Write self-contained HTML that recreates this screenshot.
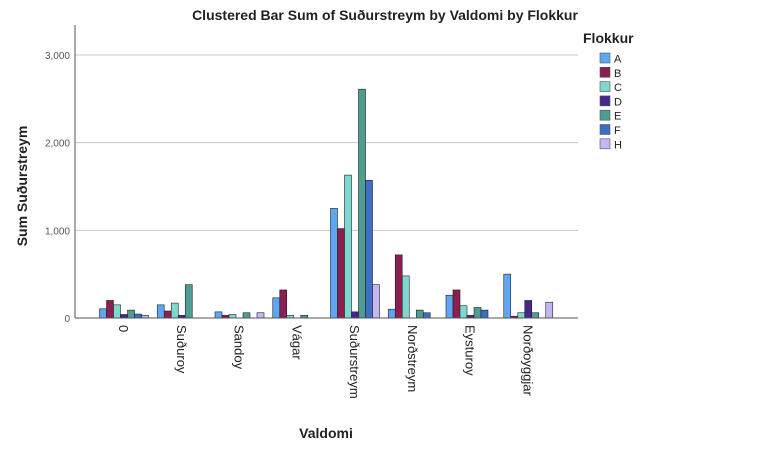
<!DOCTYPE html>
<html><head><meta charset="utf-8"><style>
body{margin:0;background:#fff;width:770px;height:453px;overflow:hidden;font-family:"Liberation Sans",sans-serif}
</style></head><body>
<svg id="chart" width="770" height="453" xmlns="http://www.w3.org/2000/svg">
<text x="385" y="20" text-anchor="middle" font-size="14" font-weight="bold" fill="#222">Clustered Bar Sum of Suðurstreym by Valdomi by Flokkur</text>
<g id="grid"></g><g id="bars"></g><g id="axes"></g><g id="legend"></g>
<text transform="translate(27,186) rotate(-90)" text-anchor="middle" font-size="14" font-weight="bold" fill="#222">Sum Suðurstreym</text>
<text x="326" y="438" text-anchor="middle" font-size="14" font-weight="bold" fill="#222">Valdomi</text>
</svg>
<script>
const categories=["0","Suðuroy","Sandoy","Vágar","Suðurstreym","Norðstreym","Eysturoy","Norðoyggjar"];
const seriesNames=["A","B","C","D","E","F","H"];
const seriesColors=["#5ea6f2","#8b1f4f","#7fd8cf","#45268f","#4f9c93","#3e6ec2","#c6b5f5"];
const valuesA=[105,150,70,230,1250,100,260,500];
const valuesB=[200,80,30,320,1020,720,320,20];
const valuesC=[150,170,40,30,1630,480,140,60];
const valuesD=[40,30,0,0,70,0,30,200];
const valuesE=[90,380,60,30,2610,90,120,60];
const valuesF=[45,0,0,0,1570,60,90,0];
const valuesH=[30,0,60,0,380,0,0,180];
const yTicks=[0,1000,2000,3000];
const yTickLabels=["0","1,000","2,000","3,000"];
const series=[valuesA,valuesB,valuesC,valuesD,valuesE,valuesF,valuesH];
const NS="http://www.w3.org/2000/svg";
const x0=75,x1=578,y0=318,yTop=25,pxPer=(318-55)/3000;
const step=57.75,c0=124,bw=7;
function y(v){return y0-v*pxPer;}
function xc(i){return c0+i*step;}
function mk(t,a,p){const e=document.createElementNS(NS,t);for(const k in a)e.setAttribute(k,a[k]);p.appendChild(e);return e;}
const grid=document.getElementById('grid'),bars=document.getElementById('bars'),axes=document.getElementById('axes'),leg=document.getElementById('legend');
yTicks.forEach((t,i)=>{
 if(t>0){const g=mk('line',{x1:x0,x2:x1,y1:y(t),y2:y(t),stroke:'#c8c8c8','stroke-width':1},grid);
 
 }
 const tx=mk('text',{x:x0-5,y:y(t)+4,'text-anchor':'end','font-size':10,fill:'#555'},axes);
 tx.textContent=yTickLabels[i];
 
 
});
series.forEach((vals,s)=>{
 vals.forEach((v,i)=>{
  if(v<=0)return;
  const x=xc(i)-seriesNames.length*bw/2+s*bw;
  const r=mk('rect',{x:x,y:y(v),width:bw,height:y0-y(v),fill:seriesColors[s],stroke:'#222','stroke-width':0.6},bars);
  
  
 });
});
const ya=mk('line',{x1:x0,x2:x0,y1:yTop,y2:y0,stroke:'#555'},axes);


const xa=mk('line',{x1:x0,x2:x1,y1:y0,y2:y0,stroke:'#555'},axes);


categories.forEach((c,i)=>{
 const t=mk('text',{transform:`translate(${xc(i)-5},325) rotate(90)`,'font-size':13,fill:'#222'},axes);
 t.textContent=c;
 
 
});
const lt=mk('text',{x:583,y:43,'font-size':14,'font-weight':'bold',fill:'#222'},leg);
lt.textContent='Flokkur';


seriesNames.forEach((n,s)=>{
 const yy=53+s*14.3;
 const r=mk('rect',{x:600,y:yy,width:10,height:10,fill:seriesColors[s],stroke:'#555','stroke-width':0.6},leg);
 
 
 const t=mk('text',{x:614,y:yy+9.5,'font-size':11,fill:'#222'},leg);
 t.textContent=n;
 
 
});
</script>
</body></html>
